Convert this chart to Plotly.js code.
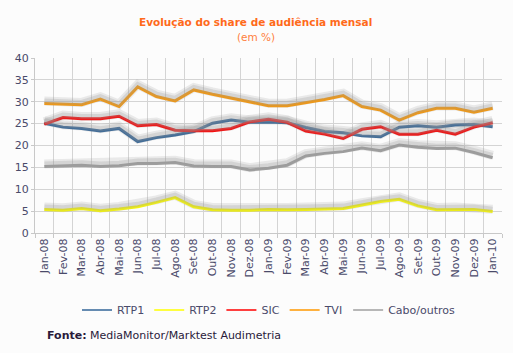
<!DOCTYPE html>
<html>
<head>
<meta charset="utf-8">
<script src="https://cdn.plot.ly/plotly-3.0.1.min.js"></script>
<style>
html,body{margin:0;padding:0;background:#fcfcfc;}
#chart{width:513px;height:353px;}
</style>
</head>
<body>
<div id="chart"></div>
<script>
const months = ["Jan-08","Fev-08","Mar-08","Abr-08","Mai-08","Jun-08","Jul-08","Ago-08","Set-08","Out-08","Nov-08","Dez-08",
  "Jan-09","Fev-09","Mar-09","Abr-09","Mai-09","Jun-09","Jul-09","Ago-09","Set-09","Out-09","Nov-09","Dez-09","Jan-10"];
const rtp1 = [25.1,24.2,23.9,23.3,23.9,20.9,21.8,22.4,23.2,25.1,25.8,25.3,25.4,25.2,24.1,23.2,22.9,22.2,22.0,24.2,24.5,24.2,24.7,24.8,24.3];
const rtp2 = [5.4,5.2,5.6,5.1,5.5,6.0,7.0,8.1,6.0,5.3,5.2,5.2,5.4,5.3,5.4,5.5,5.6,6.4,7.2,7.7,6.2,5.3,5.4,5.4,4.9];
const sic  = [24.9,26.4,26.1,26.1,26.7,24.5,24.8,23.5,23.4,23.4,23.9,25.4,26.0,25.3,23.3,22.6,21.6,23.7,24.3,22.6,22.6,23.5,22.6,24.2,25.2];
const tvi  = [29.6,29.4,29.3,30.6,28.9,33.4,31.2,30.2,32.7,31.7,30.8,29.9,29.1,29.1,29.8,30.5,31.4,28.9,28.1,25.8,27.5,28.5,28.5,27.6,28.5];
const cabo = [15.2,15.3,15.5,15.2,15.4,15.9,15.9,16.1,15.3,15.2,15.2,14.4,14.8,15.5,17.6,18.2,18.6,19.4,18.8,20.1,19.6,19.3,19.4,18.4,17.2];
const yTicks = [0,5,10,15,20,25,30,35,40];

const seriesNames = ["RTP1","RTP2","SIC","TVI","Cabo/outros"];
const seriesVals = [rtp1, rtp2, sic, tvi, cabo];
const seriesColors = ["#336699","#ffff00","#ff0000","#ff9900","#a0a0a0"];

const traces = [];
// shadows (drawn on a slightly shifted overlay axis)
seriesVals.forEach(v => {
  traces.push({x: months, y: v, yaxis: "y2", type: "scatter", mode: "lines",
    line: {color: "rgba(150,150,150,0.18)", width: 9}, hoverinfo: "skip", showlegend: false});
  traces.push({x: months, y: v, yaxis: "y2", type: "scatter", mode: "lines",
    line: {color: "rgba(150,150,150,0.25)", width: 5}, hoverinfo: "skip", showlegend: false});
});
seriesVals.forEach((v, i) => {
  traces.push({x: months, y: v, name: seriesNames[i], type: "scatter", mode: "lines",
    line: {color: seriesColors[i], width: 3}, showlegend: false});
});
// legend entries with thin lines
seriesNames.forEach((n, i) => {
  traces.push({x: [months[0]], y: [null], name: n, type: "scatter", mode: "lines",
    line: {color: seriesColors[i], width: 1.5}, showlegend: true, hoverinfo: "skip"});
});

const tickFont = {family: "DejaVu Sans, Verdana, sans-serif", size: 11, color: "#4a4a6a"};

const layout = {
  width: 513, height: 353,
  paper_bgcolor: "#fcfcfc", plot_bgcolor: "#fcfcfc",
  margin: {l: 35, r: 11, t: 58, b: 120},
  showlegend: true,
  legend: {orientation: "h", x: 0.5, xanchor: "center", y: -0.44, yanchor: "middle",
    font: {family: "DejaVu Sans, Verdana, sans-serif", size: 11, color: "#4a4a6a"},
    itemwidth: 30, bgcolor: "rgba(0,0,0,0)"},
  xaxis: {type: "category", range: [-0.5, 24.5], tickson: "boundaries",
    tickangle: -90, tickfont: tickFont, showgrid: true, gridcolor: "#d4d4d4", gridwidth: 1,
    ticks: "outside", ticklen: 4, tickcolor: "#c8c8c8",
    showline: true, linecolor: "#c8c8c8", linewidth: 1, zeroline: false, fixedrange: true},
  yaxis: {range: [0, 40], tickvals: yTicks, ticktext: yTicks.map(String), tickfont: tickFont,
    showgrid: true, gridcolor: "#d4d4d4", gridwidth: 1, zeroline: false,
    ticks: "outside", ticklen: 3, tickcolor: "#c8c8c8",
    showline: true, linecolor: "#c8c8c8", linewidth: 1, fixedrange: true},
  yaxis2: {overlaying: "y", range: [-0.55, 39.45], visible: false, showgrid: false, fixedrange: true},
  annotations: [
    {text: "<b>Evolução do share de audiência mensal</b>", xref: "paper", yref: "paper",
     x: 0.473, y: 1.206, xanchor: "center", yanchor: "middle", showarrow: false,
     font: {family: "DejaVu Sans, Verdana, sans-serif", size: 10.5, color: "#ff6a1a"}},
    {text: "(em %)", xref: "paper", yref: "paper",
     x: 0.473, y: 1.12, xanchor: "center", yanchor: "middle", showarrow: false,
     font: {family: "DejaVu Sans, Verdana, sans-serif", size: 10.5, color: "#ff7f40"}},
    {text: "<b>Fonte:</b> MediaMonitor/Marktest Audimetria", xref: "paper", yref: "paper",
     x: 0.022, y: -0.583, xanchor: "left", yanchor: "middle", showarrow: false,
     font: {family: "DejaVu Sans, Verdana, sans-serif", size: 11, color: "#2a1a3a"}}
  ]
};

Plotly.newPlot("chart", traces, layout, {displayModeBar: false, staticPlot: true});
</script>
</body>
</html>
